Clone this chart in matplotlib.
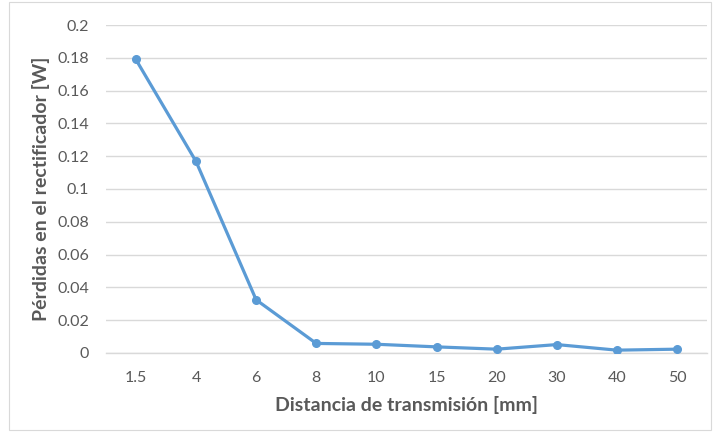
import matplotlib
matplotlib.use("Agg")
import matplotlib.pyplot as plt
from matplotlib.patches import Rectangle

plt.rcParams['font.family'] = ['Lato', 'DejaVu Sans']

distances = ["1.5", "4", "6", "8", "10", "15", "20", "30", "40", "50"]
losses = [0.179, 0.1168, 0.0324, 0.0058, 0.0053, 0.0037, 0.0023, 0.0051, 0.0017, 0.0023]
y_ticks = [0, 0.02, 0.04, 0.06, 0.08, 0.1, 0.12, 0.14, 0.16, 0.18, 0.2]
y_tick_labels = ["0", "0.02", "0.04", "0.06", "0.08", "0.1", "0.12", "0.14", "0.16", "0.18", "0.2"]

text_color = "#595959"
grid_color = "#D9D9D9"
line_color = "#5B9BD5"

fig = plt.figure(figsize=(7.15, 4.32), dpi=100)
fig.patches.append(Rectangle((0.012, 0.005), 0.983, 0.99, transform=fig.transFigure,
                             fill=False, edgecolor=grid_color, linewidth=0.8))

ax = fig.add_axes([0.148, 0.183, 0.841, 0.759])
x = range(len(distances))
ax.plot(x, losses, color=line_color, linewidth=2.3, marker="o", markersize=5.5,
        solid_capstyle="round", zorder=3)

ax.set_xlim(-0.5, len(distances) - 0.5)
ax.set_ylim(0, 0.2)
ax.set_yticks(y_ticks)
ax.set_yticklabels(y_tick_labels)
ax.set_xticks(list(x))
ax.set_xticklabels(distances)

ax.grid(axis="y", color=grid_color, linewidth=1)
ax.set_axisbelow(True)
for side in ["top", "right", "left"]:
    ax.spines[side].set_visible(False)
ax.spines["bottom"].set_color(grid_color)
ax.spines["bottom"].set_linewidth(1)
ax.tick_params(length=0, colors=text_color, labelsize=11.5)
ax.tick_params(axis="y", pad=12)
ax.tick_params(axis="x", pad=13)

ax.set_xlabel("Distancia de transmisión [mm]", fontsize=14, fontweight="bold",
              color=text_color, labelpad=8)
ax.set_ylabel("Pérdidas en el rectificador [W]", fontsize=14, fontweight="bold",
              color=text_color, labelpad=5)

fig.savefig("out.png", dpi=100)
